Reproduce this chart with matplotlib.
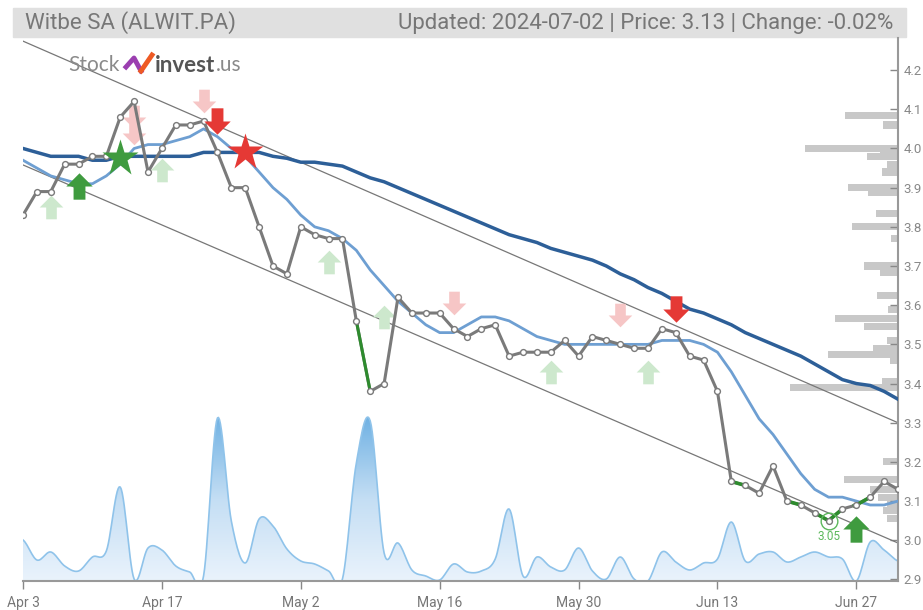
import matplotlib
matplotlib.use("Agg")
import matplotlib.pyplot as plt
import numpy as np
from matplotlib.path import Path
from matplotlib.patches import Rectangle, Polygon
from matplotlib.lines import Line2D
from matplotlib.colors import LinearSegmentedColormap

plt.rcParams['font.family'] = ['Roboto', 'DejaVu Sans']

# ---- data (trading-day index 0 = Apr 3, 63 = Jul 2) ----
tick_pos = [0, 10, 20, 30, 40, 50, 60]
tick_labels = ['Apr 3', 'Apr 17', 'May 2', 'May 16', 'May 30', 'Jun 13', 'Jun 27']

price = [3.83, 3.89, 3.89, 3.96, 3.96, 3.98, 3.98, 4.08, 4.12, 3.94,
         4.00, 4.06, 4.06, 4.07, 3.99, 3.90, 3.90, 3.80, 3.70, 3.68,
         3.80, 3.78, 3.77, 3.77, 3.56, 3.38, 3.40, 3.62, 3.58, 3.58,
         3.58, 3.54, 3.52, 3.54, 3.55, 3.47, 3.48, 3.48, 3.48, 3.51,
         3.47, 3.52, 3.51, 3.50, 3.49, 3.49, 3.54, 3.53, 3.47, 3.46,
         3.38, 3.15, 3.14, 3.12, 3.19, 3.10, 3.09, 3.07, 3.05, 3.08,
         3.09, 3.11, 3.15, 3.13]

ma_short = [3.97, 3.95, 3.93, 3.92, 3.91, 3.91, 3.93, 3.96, 4.00, 4.01,
            4.01, 4.02, 4.03, 4.05, 4.03, 4.00, 3.98, 3.94, 3.90, 3.87,
            3.83, 3.80, 3.79, 3.77, 3.74, 3.69, 3.65, 3.61, 3.58, 3.55,
            3.53, 3.53, 3.55, 3.57, 3.57, 3.56, 3.54, 3.52, 3.51, 3.50,
            3.50, 3.50, 3.50, 3.50, 3.50, 3.50, 3.51, 3.51, 3.51, 3.50,
            3.48, 3.43, 3.37, 3.31, 3.27, 3.22, 3.17, 3.13, 3.11, 3.11,
            3.10, 3.09, 3.09, 3.10]

ma_long = [4.00, 3.99, 3.98, 3.98, 3.98, 3.97, 3.97, 3.98, 3.98, 3.98,
           3.98, 3.98, 3.98, 3.99, 3.99, 3.99, 3.99, 3.99, 3.98, 3.975,
           3.965, 3.965, 3.96, 3.955, 3.94, 3.925, 3.915, 3.90, 3.885, 3.87,
           3.855, 3.84, 3.825, 3.81, 3.795, 3.78, 3.77, 3.76, 3.745, 3.735,
           3.725, 3.715, 3.70, 3.68, 3.665, 3.645, 3.63, 3.61, 3.59, 3.58,
           3.565, 3.55, 3.53, 3.515, 3.50, 3.485, 3.47, 3.45, 3.43, 3.41,
           3.40, 3.395, 3.38, 3.36]

volume = [41, 21, 29, 15, 10, 24, 30, 94, 2, 33,
          31, 15, 9, 5, 163, 60, 18, 62, 55, 32,
          20, 17, 10, 2, 118, 160, 28, 38, 11, 5,
          1, 17, 9, 10, 22, 72, 5, 24, 14, 11,
          33, 10, 2, 24, 2, 0, 29, 19, 11, 18,
          22, 59, 20, 27, 29, 19, 24, 29, 24, 22,
          0, 39, 31, 20]
volume = [v * 1000 for v in volume]

# trend channel (start/end prices)
chan_upper = (4.274, 3.30)
chan_lower = (3.958, 2.993)

# green highlighted segments (index ranges)
green_solid = [(24, 25)]
green_dashed = [(51, 53), (55, 58), (58, 61)]
low_idx, low_label = 58, '3.05'

# signals: (index, price)
pale_up = [(2, 3.85), (10, 3.945), (22, 3.71), (26, 3.57), (38, 3.43), (45, 3.43)]
strong_up = [(4, 3.905), (60, 3.03)]
buy_star = [(7, 3.975)]
pale_down = [(8, 4.08), (8, 4.04), (13, 4.12), (31, 3.605), (43, 3.575)]
strong_down = [(14, 4.07), (47, 3.59)]
sell_star = [(16, 3.99)]

# volume profile (price level, relative volume)
prof_price = [4.083, 4.06, 4.00, 3.985, 3.98, 3.96, 3.94, 3.90, 3.888, 3.835,
              3.80, 3.77, 3.70, 3.683, 3.625, 3.59, 3.565, 3.545, 3.51, 3.49,
              3.475, 3.46, 3.405, 3.39, 3.20, 3.154, 3.13, 3.11, 3.095, 3.075, 3.055]
prof_vol = [53, 15, 93, 18, 31, 11, 16, 50, 30, 22,
            46, 7, 34, 18, 21, 10, 63, 34, 11, 25,
            70, 8, 16, 108, 15, 54, 28, 20, 11, 15, 11]

# ---- figure ----
W, H = 923, 610
fig = plt.figure(figsize=(W / 100, H / 100), dpi=100)
L, R, B, T = 23, 898, 581, 38
ax = fig.add_axes([L / W, (H - B) / H, (R - L) / W, (B - T) / H])
vax = ax.twinx()
ax.set_zorder(vax.get_zorder() + 1)
ax.patch.set_visible(False)

x = np.arange(len(price))
xmin, xmax = 0, 63
ax.set_xlim(xmin, xmax)
ax.set_ylim(2.896, 4.282)

# volume area (smoothed drawing through the daily values)
def catmull(xv, yv, n=14):
    p = np.concatenate([[yv[0]], yv, [yv[-1]]]).astype(float)
    xs, ys = [], []
    t = np.linspace(0, 1, n, endpoint=False)
    for k in range(len(yv) - 1):
        p0, p1, p2, p3 = p[k], p[k + 1], p[k + 2], p[k + 3]
        ys.append(0.5 * (2 * p1 + (-p0 + p2) * t + (2 * p0 - 5 * p1 + 4 * p2 - p3) * t ** 2
                         + (-p0 + 3 * p1 - 3 * p2 + p3) * t ** 3))
        xs.append(xv[k] + t * (xv[k + 1] - xv[k]))
    xs.append([xv[-1]]); ys.append([yv[-1]])
    return np.concatenate(xs), np.concatenate(ys)

vx, vy = catmull(x, np.array(volume))
vax.set_xlim(xmin, xmax)
verts = np.column_stack([np.concatenate([[vx[0]], vx, [vx[-1]]]),
                         np.concatenate([[0], vy, [0]])])
clip = Polygon(verts, closed=True, facecolor='none', edgecolor='none',
               transform=vax.transData)
vax.add_patch(clip)
cmap = LinearSegmentedColormap.from_list('vol', ['#eaf3fc', '#c4def4', '#6fb1e3'])
grad = np.linspace(0, 1, 256).reshape(-1, 1)
im = vax.imshow(grad, cmap=cmap, origin='lower', aspect='auto',
                extent=(xmin, xmax, 0, 165000), zorder=1)
im.set_clip_path(clip)
vax.plot(vx, vy, color='#8fc3ea', lw=1.2, zorder=2)
vax.set_ylim(0, (B - T) * 1000)
vax.set_yticks([])
for s in vax.spines.values():
    s.set_visible(False)

# volume profile bars (extend left from right edge)
day_px = (R - L) / (xmax - xmin)
for pp, pv in zip(prof_price, prof_vol):
    ln = pv / day_px
    ax.barh(pp, ln, left=xmax - ln, height=0.018, color='#c8c8c8', lw=0, zorder=1)

# trend channel
ax.plot([xmin, xmax], chan_upper, color='#777777', lw=0.9, zorder=2)
ax.plot([xmin, xmax], chan_lower, color='#777777', lw=0.9, zorder=2)

# moving averages
ax.plot(x, ma_long, color='#2d5f98', lw=2.5, zorder=3)
ax.plot(x, ma_short, color='#6e9fd2', lw=2.0, zorder=3)

# price line
ax.plot(x, price, color='#7a7a7a', lw=2.2, zorder=5)
for a, b in green_solid:
    ax.plot(x[a:b + 1], price[a:b + 1], color='#2e8b2e', lw=2.2, zorder=6)
for a, b in green_dashed:
    ax.plot(x[a:b + 1], price[a:b + 1], color='#2e8b2e', lw=2.6, dashes=(5, 3), zorder=6)
ax.plot(x, price, ls='none', marker='o', ms=4.2, mfc='white', mec='#7a7a7a', mew=1, zorder=7)

ax.plot(low_idx, price[low_idx], marker='o', ms=12, mfc='none', mec='#5cb85c', mew=1, zorder=8)
ax.text(low_idx, price[low_idx] - 0.025, low_label, color='#5cb85c', fontsize=8.5,
        ha='center', va='top', zorder=8)

# signal markers
up_path = Path([(-1, 0), (0, 1), (1, 0), (0.45, 0), (0.45, -1), (-0.45, -1), (-0.45, 0), (-1, 0)],
               [Path.MOVETO] + [Path.LINETO] * 6 + [Path.CLOSEPOLY])
down_path = Path([(px, -py) for px, py in up_path.vertices], up_path.codes)

def marks(pts, mk, color, ms, z):
    ax.plot([p[0] for p in pts], [p[1] for p in pts], ls='none', marker=mk, ms=ms,
            color=color, mec='none', zorder=z)

marks(pale_up, up_path, '#cde8cd', 17, 4)
marks(pale_down, down_path, '#f6c6c6', 17, 4)
marks(strong_up, up_path, '#3f9b3f', 19, 9)
marks(strong_down, down_path, '#e53935', 19, 9)
marks(buy_star, '*', '#3f9b3f', 28, 9)
marks(sell_star, '*', '#e53935', 28, 9)

# axes styling
ax.yaxis.tick_right()
yt = np.round(np.arange(2.9, 4.25, 0.1), 1)
ax.set_yticks(yt)
ax.set_yticklabels([f'{v:.1f}' for v in yt])
ax.tick_params(axis='y', direction='in', length=6, width=1, color='#888888',
               labelcolor='#888888', labelsize=9.5, pad=4)
ax.set_xticks(tick_pos)
ax.set_xticklabels(tick_labels)
ax.tick_params(axis='x', direction='out', length=6, width=1, color='#888888',
               labelcolor='#777777', labelsize=10, pad=5)
for side in ['top', 'left']:
    ax.spines[side].set_visible(False)
for side in ['right', 'bottom']:
    ax.spines[side].set_color('#999999')
    ax.spines[side].set_linewidth(1.5)

# header
fig.patches.append(Rectangle((13 / W, 1 - 37 / H), 893 / W, 29 / H, transform=fig.transFigure,
                             color='#e0e0e0', zorder=0))
fig.text(25 / W, 1 - 23 / H, 'Witbe SA (ALWIT.PA)', color='#777777', fontsize=16,
         ha='left', va='center')
fig.text(893 / W, 1 - 23 / H, 'Updated: 2024-07-02 | Price: 3.13 | Change: -0.02%',
         color='#777777', fontsize=16, ha='right', va='center')

# logo
fig.text(68 / W, 1 - 65 / H, 'Stock', color='#8a8a8a', fontsize=15, ha='left', va='center',
         family='Lato')
fig.add_artist(Line2D([126 / W, 134 / W, 141 / W], [1 - 67 / H, 1 - 58 / H, 1 - 71 / H],
                      transform=fig.transFigure, color='#9b3fb0', lw=3.5))
fig.add_artist(Line2D([141 / W, 152 / W], [1 - 71 / H, 1 - 55 / H],
                      transform=fig.transFigure, color='#ee5a24', lw=3.5))
inv = fig.text(155 / W, 1 - 65 / H, 'invest', color='#555555', fontsize=16, fontweight='bold',
               ha='left', va='center', family='Lato')
fig.canvas.draw()
bb = inv.get_window_extent()
fig.text(bb.x1 / W + 0.5 / W, 1 - 65 / H, '.us', color='#8a8a8a', fontsize=15, ha='left',
         va='center', family='Lato')

fig.savefig('out.png', dpi=100, facecolor='white')
